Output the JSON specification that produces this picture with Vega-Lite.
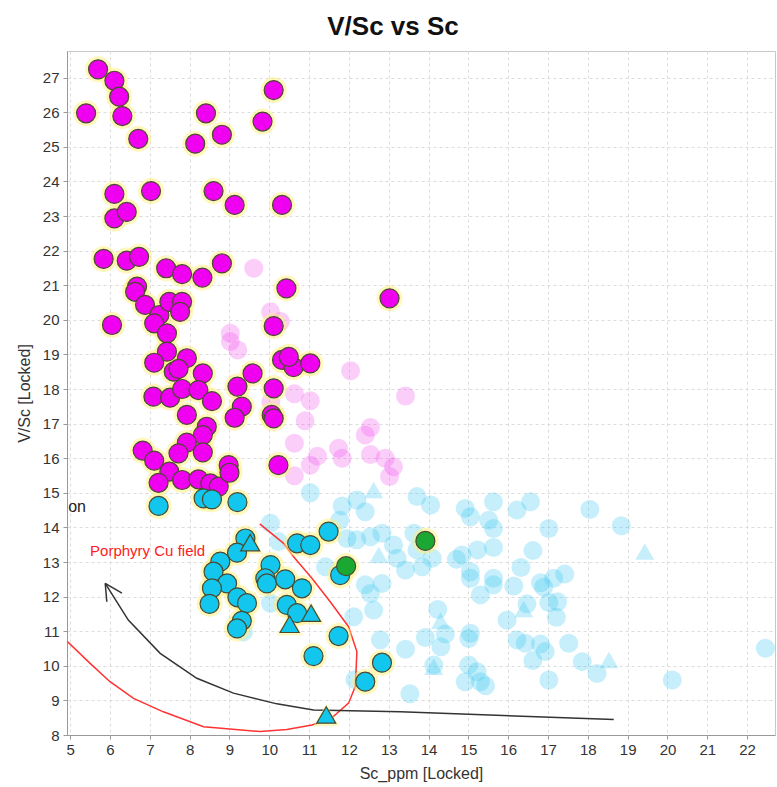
{
  "$schema": "https://vega.github.io/schema/vega-lite/v6.json",
  "width": 708,
  "height": 684,
  "autosize": "none",
  "padding": {"left": 67, "top": 51, "right": 2, "bottom": 52},
  "background": "white",
  "title": {"text": "V/Sc vs Sc", "font": "Liberation Sans", "fontSize": 26, "fontWeight": "bold", "color": "#111", "offset": 11, "dx": -28},
  "config": {
    "view": {"stroke": "#c8c8c8"}
  },
  "datasets": {
    "pts": [
      {"sc": 5.70, "vsc": 27.24, "grp": "mag", "shp": "circle"},
      {"sc": 6.11, "vsc": 26.91, "grp": "mag", "shp": "circle"},
      {"sc": 6.23, "vsc": 26.45, "grp": "mag", "shp": "circle"},
      {"sc": 5.40, "vsc": 25.97, "grp": "mag", "shp": "circle"},
      {"sc": 6.31, "vsc": 25.89, "grp": "mag", "shp": "circle"},
      {"sc": 6.71, "vsc": 25.23, "grp": "mag", "shp": "circle"},
      {"sc": 8.14, "vsc": 25.09, "grp": "mag", "shp": "circle"},
      {"sc": 8.41, "vsc": 25.97, "grp": "mag", "shp": "circle"},
      {"sc": 8.81, "vsc": 25.35, "grp": "mag", "shp": "circle"},
      {"sc": 10.11, "vsc": 26.64, "grp": "mag", "shp": "circle"},
      {"sc": 9.83, "vsc": 25.73, "grp": "mag", "shp": "circle"},
      {"sc": 6.11, "vsc": 23.64, "grp": "mag", "shp": "circle"},
      {"sc": 7.03, "vsc": 23.72, "grp": "mag", "shp": "circle"},
      {"sc": 8.60, "vsc": 23.72, "grp": "mag", "shp": "circle"},
      {"sc": 9.13, "vsc": 23.32, "grp": "mag", "shp": "circle"},
      {"sc": 10.32, "vsc": 23.32, "grp": "mag", "shp": "circle"},
      {"sc": 6.11, "vsc": 22.93, "grp": "mag", "shp": "circle"},
      {"sc": 6.42, "vsc": 23.12, "grp": "mag", "shp": "circle"},
      {"sc": 5.84, "vsc": 21.76, "grp": "mag", "shp": "circle"},
      {"sc": 6.42, "vsc": 21.71, "grp": "mag", "shp": "circle"},
      {"sc": 6.73, "vsc": 21.82, "grp": "mag", "shp": "circle"},
      {"sc": 7.41, "vsc": 21.49, "grp": "mag", "shp": "circle"},
      {"sc": 7.81, "vsc": 21.32, "grp": "mag", "shp": "circle"},
      {"sc": 8.32, "vsc": 21.22, "grp": "mag", "shp": "circle"},
      {"sc": 8.81, "vsc": 21.63, "grp": "mag", "shp": "circle"},
      {"sc": 10.43, "vsc": 20.91, "grp": "mag", "shp": "circle"},
      {"sc": 13.02, "vsc": 20.62, "grp": "mag", "shp": "circle"},
      {"sc": 6.68, "vsc": 20.96, "grp": "mag", "shp": "circle"},
      {"sc": 6.63, "vsc": 20.81, "grp": "mag", "shp": "circle"},
      {"sc": 6.88, "vsc": 20.43, "grp": "mag", "shp": "circle"},
      {"sc": 7.24, "vsc": 20.14, "grp": "mag", "shp": "circle"},
      {"sc": 7.49, "vsc": 20.52, "grp": "mag", "shp": "circle"},
      {"sc": 7.81, "vsc": 20.52, "grp": "mag", "shp": "circle"},
      {"sc": 7.76, "vsc": 20.23, "grp": "mag", "shp": "circle"},
      {"sc": 6.05, "vsc": 19.85, "grp": "mag", "shp": "circle"},
      {"sc": 7.11, "vsc": 19.90, "grp": "mag", "shp": "circle"},
      {"sc": 7.43, "vsc": 19.61, "grp": "mag", "shp": "circle"},
      {"sc": 10.11, "vsc": 19.82, "grp": "mag", "shp": "circle"},
      {"sc": 7.43, "vsc": 19.08, "grp": "mag", "shp": "circle"},
      {"sc": 7.11, "vsc": 18.76, "grp": "mag", "shp": "circle"},
      {"sc": 7.93, "vsc": 18.89, "grp": "mag", "shp": "circle"},
      {"sc": 7.60, "vsc": 18.50, "grp": "mag", "shp": "circle"},
      {"sc": 7.72, "vsc": 18.58, "grp": "mag", "shp": "circle"},
      {"sc": 8.33, "vsc": 18.45, "grp": "mag", "shp": "circle"},
      {"sc": 9.58, "vsc": 18.45, "grp": "mag", "shp": "circle"},
      {"sc": 10.32, "vsc": 18.84, "grp": "mag", "shp": "circle"},
      {"sc": 10.61, "vsc": 18.63, "grp": "mag", "shp": "circle"},
      {"sc": 11.03, "vsc": 18.74, "grp": "mag", "shp": "circle"},
      {"sc": 10.49, "vsc": 18.93, "grp": "mag", "shp": "circle"},
      {"sc": 10.11, "vsc": 18.02, "grp": "mag", "shp": "circle"},
      {"sc": 7.09, "vsc": 17.78, "grp": "mag", "shp": "circle"},
      {"sc": 7.51, "vsc": 17.75, "grp": "mag", "shp": "circle"},
      {"sc": 7.81, "vsc": 18.00, "grp": "mag", "shp": "circle"},
      {"sc": 8.22, "vsc": 17.97, "grp": "mag", "shp": "circle"},
      {"sc": 8.56, "vsc": 17.65, "grp": "mag", "shp": "circle"},
      {"sc": 9.20, "vsc": 18.07, "grp": "mag", "shp": "circle"},
      {"sc": 9.31, "vsc": 17.49, "grp": "mag", "shp": "circle"},
      {"sc": 9.13, "vsc": 17.17, "grp": "mag", "shp": "circle"},
      {"sc": 10.06, "vsc": 17.25, "grp": "mag", "shp": "circle"},
      {"sc": 10.11, "vsc": 17.15, "grp": "mag", "shp": "circle"},
      {"sc": 7.93, "vsc": 17.25, "grp": "mag", "shp": "circle"},
      {"sc": 8.43, "vsc": 16.91, "grp": "mag", "shp": "circle"},
      {"sc": 8.33, "vsc": 16.67, "grp": "mag", "shp": "circle"},
      {"sc": 7.93, "vsc": 16.45, "grp": "mag", "shp": "circle"},
      {"sc": 7.72, "vsc": 16.14, "grp": "mag", "shp": "circle"},
      {"sc": 8.33, "vsc": 16.17, "grp": "mag", "shp": "circle"},
      {"sc": 6.82, "vsc": 16.22, "grp": "mag", "shp": "circle"},
      {"sc": 7.11, "vsc": 15.93, "grp": "mag", "shp": "circle"},
      {"sc": 7.49, "vsc": 15.61, "grp": "mag", "shp": "circle"},
      {"sc": 7.22, "vsc": 15.29, "grp": "mag", "shp": "circle"},
      {"sc": 7.81, "vsc": 15.37, "grp": "mag", "shp": "circle"},
      {"sc": 8.22, "vsc": 15.39, "grp": "mag", "shp": "circle"},
      {"sc": 8.52, "vsc": 15.27, "grp": "mag", "shp": "circle"},
      {"sc": 8.73, "vsc": 15.18, "grp": "mag", "shp": "circle"},
      {"sc": 8.98, "vsc": 15.80, "grp": "mag", "shp": "circle"},
      {"sc": 9.00, "vsc": 15.58, "grp": "mag", "shp": "circle"},
      {"sc": 10.23, "vsc": 15.80, "grp": "mag", "shp": "circle"},
      {"sc": 7.22, "vsc": 14.62, "grp": "cyan", "shp": "circle"},
      {"sc": 8.35, "vsc": 14.84, "grp": "cyan", "shp": "circle"},
      {"sc": 8.56, "vsc": 14.81, "grp": "cyan", "shp": "circle"},
      {"sc": 9.20, "vsc": 14.73, "grp": "cyan", "shp": "circle"},
      {"sc": 9.40, "vsc": 13.68, "grp": "cyan", "shp": "circle"},
      {"sc": 9.19, "vsc": 13.27, "grp": "cyan", "shp": "circle"},
      {"sc": 8.77, "vsc": 13.01, "grp": "cyan", "shp": "circle"},
      {"sc": 8.60, "vsc": 12.72, "grp": "cyan", "shp": "circle"},
      {"sc": 8.94, "vsc": 12.38, "grp": "cyan", "shp": "circle"},
      {"sc": 8.56, "vsc": 12.24, "grp": "cyan", "shp": "circle"},
      {"sc": 8.50, "vsc": 11.79, "grp": "cyan", "shp": "circle"},
      {"sc": 9.20, "vsc": 11.98, "grp": "cyan", "shp": "circle"},
      {"sc": 9.44, "vsc": 11.81, "grp": "cyan", "shp": "circle"},
      {"sc": 9.31, "vsc": 11.30, "grp": "cyan", "shp": "circle"},
      {"sc": 9.19, "vsc": 11.08, "grp": "cyan", "shp": "circle"},
      {"sc": 10.03, "vsc": 12.91, "grp": "cyan", "shp": "circle"},
      {"sc": 9.90, "vsc": 12.53, "grp": "cyan", "shp": "circle"},
      {"sc": 9.94, "vsc": 12.38, "grp": "cyan", "shp": "circle"},
      {"sc": 10.40, "vsc": 12.50, "grp": "cyan", "shp": "circle"},
      {"sc": 10.82, "vsc": 12.24, "grp": "cyan", "shp": "circle"},
      {"sc": 10.44, "vsc": 11.76, "grp": "cyan", "shp": "circle"},
      {"sc": 10.70, "vsc": 11.52, "grp": "cyan", "shp": "circle"},
      {"sc": 11.74, "vsc": 10.86, "grp": "cyan", "shp": "circle"},
      {"sc": 11.11, "vsc": 10.28, "grp": "cyan", "shp": "circle"},
      {"sc": 12.41, "vsc": 9.54, "grp": "cyan", "shp": "circle"},
      {"sc": 12.83, "vsc": 10.09, "grp": "cyan", "shp": "circle"},
      {"sc": 10.70, "vsc": 13.54, "grp": "cyan", "shp": "circle"},
      {"sc": 11.03, "vsc": 13.49, "grp": "cyan", "shp": "circle"},
      {"sc": 11.49, "vsc": 13.88, "grp": "cyan", "shp": "circle"},
      {"sc": 11.78, "vsc": 12.62, "grp": "cyan", "shp": "circle"},
      {"sc": 9.52, "vsc": 13.56, "grp": "cyan", "shp": "triangle"},
      {"sc": 10.51, "vsc": 11.20, "grp": "cyan", "shp": "triangle"},
      {"sc": 11.05, "vsc": 11.52, "grp": "cyan", "shp": "triangle"},
      {"sc": 11.43, "vsc": 8.58, "grp": "cyan", "shp": "triangle"},
      {"sc": 11.93, "vsc": 12.88, "grp": "green", "shp": "circle"},
      {"sc": 13.92, "vsc": 13.61, "grp": "green", "shp": "circle"},
      {"sc": 11.03, "vsc": 15.00, "grp": "fcyan", "shp": "circle"},
      {"sc": 13.71, "vsc": 14.89, "grp": "fcyan", "shp": "circle"},
      {"sc": 14.05, "vsc": 14.65, "grp": "fcyan", "shp": "circle"},
      {"sc": 11.83, "vsc": 14.62, "grp": "fcyan", "shp": "circle"},
      {"sc": 12.20, "vsc": 14.79, "grp": "fcyan", "shp": "circle"},
      {"sc": 12.41, "vsc": 14.45, "grp": "fcyan", "shp": "circle"},
      {"sc": 14.92, "vsc": 14.55, "grp": "fcyan", "shp": "circle"},
      {"sc": 15.05, "vsc": 14.31, "grp": "fcyan", "shp": "circle"},
      {"sc": 15.63, "vsc": 14.74, "grp": "fcyan", "shp": "circle"},
      {"sc": 16.22, "vsc": 14.50, "grp": "fcyan", "shp": "circle"},
      {"sc": 16.56, "vsc": 14.74, "grp": "fcyan", "shp": "circle"},
      {"sc": 15.51, "vsc": 14.21, "grp": "fcyan", "shp": "circle"},
      {"sc": 15.63, "vsc": 13.97, "grp": "fcyan", "shp": "circle"},
      {"sc": 17.02, "vsc": 13.97, "grp": "fcyan", "shp": "circle"},
      {"sc": 18.05, "vsc": 14.52, "grp": "fcyan", "shp": "circle"},
      {"sc": 18.84, "vsc": 14.05, "grp": "fcyan", "shp": "circle"},
      {"sc": 10.03, "vsc": 14.12, "grp": "fcyan", "shp": "circle"},
      {"sc": 10.23, "vsc": 13.59, "grp": "fcyan", "shp": "circle"},
      {"sc": 11.77, "vsc": 14.21, "grp": "fcyan", "shp": "circle"},
      {"sc": 11.95, "vsc": 13.68, "grp": "fcyan", "shp": "circle"},
      {"sc": 12.20, "vsc": 13.64, "grp": "fcyan", "shp": "circle"},
      {"sc": 12.54, "vsc": 13.73, "grp": "fcyan", "shp": "circle"},
      {"sc": 12.83, "vsc": 13.83, "grp": "fcyan", "shp": "circle"},
      {"sc": 13.12, "vsc": 13.49, "grp": "fcyan", "shp": "circle"},
      {"sc": 13.21, "vsc": 13.11, "grp": "fcyan", "shp": "circle"},
      {"sc": 13.42, "vsc": 12.77, "grp": "fcyan", "shp": "circle"},
      {"sc": 13.63, "vsc": 13.83, "grp": "fcyan", "shp": "circle"},
      {"sc": 13.71, "vsc": 13.35, "grp": "fcyan", "shp": "circle"},
      {"sc": 13.84, "vsc": 12.86, "grp": "fcyan", "shp": "circle"},
      {"sc": 14.09, "vsc": 13.11, "grp": "fcyan", "shp": "circle"},
      {"sc": 11.41, "vsc": 12.86, "grp": "fcyan", "shp": "circle"},
      {"sc": 14.70, "vsc": 13.08, "grp": "fcyan", "shp": "circle"},
      {"sc": 14.84, "vsc": 13.20, "grp": "fcyan", "shp": "circle"},
      {"sc": 15.23, "vsc": 13.35, "grp": "fcyan", "shp": "circle"},
      {"sc": 15.63, "vsc": 13.42, "grp": "fcyan", "shp": "circle"},
      {"sc": 16.62, "vsc": 13.33, "grp": "fcyan", "shp": "circle"},
      {"sc": 15.05, "vsc": 12.72, "grp": "fcyan", "shp": "circle"},
      {"sc": 15.05, "vsc": 12.53, "grp": "fcyan", "shp": "circle"},
      {"sc": 15.63, "vsc": 12.53, "grp": "fcyan", "shp": "circle"},
      {"sc": 15.63, "vsc": 12.34, "grp": "fcyan", "shp": "circle"},
      {"sc": 15.30, "vsc": 12.05, "grp": "fcyan", "shp": "circle"},
      {"sc": 16.32, "vsc": 12.84, "grp": "fcyan", "shp": "circle"},
      {"sc": 16.14, "vsc": 12.31, "grp": "fcyan", "shp": "circle"},
      {"sc": 16.81, "vsc": 12.40, "grp": "fcyan", "shp": "circle"},
      {"sc": 16.89, "vsc": 12.27, "grp": "fcyan", "shp": "circle"},
      {"sc": 17.14, "vsc": 12.53, "grp": "fcyan", "shp": "circle"},
      {"sc": 17.42, "vsc": 12.65, "grp": "fcyan", "shp": "circle"},
      {"sc": 16.47, "vsc": 11.79, "grp": "fcyan", "shp": "circle"},
      {"sc": 17.02, "vsc": 11.83, "grp": "fcyan", "shp": "circle"},
      {"sc": 17.24, "vsc": 11.85, "grp": "fcyan", "shp": "circle"},
      {"sc": 17.21, "vsc": 11.40, "grp": "fcyan", "shp": "circle"},
      {"sc": 15.97, "vsc": 11.32, "grp": "fcyan", "shp": "circle"},
      {"sc": 10.03, "vsc": 11.81, "grp": "fcyan", "shp": "circle"},
      {"sc": 12.41, "vsc": 12.34, "grp": "fcyan", "shp": "circle"},
      {"sc": 12.83, "vsc": 12.38, "grp": "fcyan", "shp": "circle"},
      {"sc": 12.54, "vsc": 12.09, "grp": "fcyan", "shp": "circle"},
      {"sc": 12.62, "vsc": 11.61, "grp": "fcyan", "shp": "circle"},
      {"sc": 12.12, "vsc": 11.42, "grp": "fcyan", "shp": "circle"},
      {"sc": 14.23, "vsc": 11.63, "grp": "fcyan", "shp": "circle"},
      {"sc": 14.42, "vsc": 10.92, "grp": "fcyan", "shp": "circle"},
      {"sc": 13.92, "vsc": 10.82, "grp": "fcyan", "shp": "circle"},
      {"sc": 14.31, "vsc": 10.55, "grp": "fcyan", "shp": "circle"},
      {"sc": 15.05, "vsc": 10.94, "grp": "fcyan", "shp": "circle"},
      {"sc": 15.01, "vsc": 10.79, "grp": "fcyan", "shp": "circle"},
      {"sc": 13.42, "vsc": 10.48, "grp": "fcyan", "shp": "circle"},
      {"sc": 12.79, "vsc": 10.75, "grp": "fcyan", "shp": "circle"},
      {"sc": 16.22, "vsc": 10.75, "grp": "fcyan", "shp": "circle"},
      {"sc": 16.43, "vsc": 10.65, "grp": "fcyan", "shp": "circle"},
      {"sc": 16.81, "vsc": 10.63, "grp": "fcyan", "shp": "circle"},
      {"sc": 16.93, "vsc": 10.41, "grp": "fcyan", "shp": "circle"},
      {"sc": 16.62, "vsc": 10.15, "grp": "fcyan", "shp": "circle"},
      {"sc": 17.52, "vsc": 10.65, "grp": "fcyan", "shp": "circle"},
      {"sc": 17.86, "vsc": 10.12, "grp": "fcyan", "shp": "circle"},
      {"sc": 18.23, "vsc": 9.78, "grp": "fcyan", "shp": "circle"},
      {"sc": 22.46, "vsc": 10.51, "grp": "fcyan", "shp": "circle"},
      {"sc": 20.12, "vsc": 9.59, "grp": "fcyan", "shp": "circle"},
      {"sc": 17.02, "vsc": 9.59, "grp": "fcyan", "shp": "circle"},
      {"sc": 14.13, "vsc": 10.02, "grp": "fcyan", "shp": "circle"},
      {"sc": 15.01, "vsc": 10.02, "grp": "fcyan", "shp": "circle"},
      {"sc": 15.22, "vsc": 9.83, "grp": "fcyan", "shp": "circle"},
      {"sc": 14.92, "vsc": 9.54, "grp": "fcyan", "shp": "circle"},
      {"sc": 15.30, "vsc": 9.54, "grp": "fcyan", "shp": "circle"},
      {"sc": 15.43, "vsc": 9.42, "grp": "fcyan", "shp": "circle"},
      {"sc": 13.53, "vsc": 9.19, "grp": "fcyan", "shp": "circle"},
      {"sc": 12.15, "vsc": 9.60, "grp": "fcyan", "shp": "circle"},
      {"sc": 9.35, "vsc": 10.98, "grp": "fcyan", "shp": "circle"},
      {"sc": 12.62, "vsc": 15.08, "grp": "fcyan", "shp": "triangle"},
      {"sc": 12.75, "vsc": 13.20, "grp": "fcyan", "shp": "triangle"},
      {"sc": 16.39, "vsc": 11.64, "grp": "fcyan", "shp": "triangle"},
      {"sc": 14.30, "vsc": 11.30, "grp": "fcyan", "shp": "triangle"},
      {"sc": 14.13, "vsc": 9.97, "grp": "fcyan", "shp": "triangle"},
      {"sc": 18.53, "vsc": 10.17, "grp": "fcyan", "shp": "triangle"},
      {"sc": 19.43, "vsc": 13.30, "grp": "fcyan", "shp": "triangle"},
      {"sc": 9.61, "vsc": 21.49, "grp": "fpink", "shp": "circle"},
      {"sc": 10.03, "vsc": 20.23, "grp": "fpink", "shp": "circle"},
      {"sc": 10.28, "vsc": 19.95, "grp": "fpink", "shp": "circle"},
      {"sc": 9.02, "vsc": 19.61, "grp": "fpink", "shp": "circle"},
      {"sc": 9.02, "vsc": 19.37, "grp": "fpink", "shp": "circle"},
      {"sc": 9.21, "vsc": 19.13, "grp": "fpink", "shp": "circle"},
      {"sc": 12.04, "vsc": 18.53, "grp": "fpink", "shp": "circle"},
      {"sc": 13.42, "vsc": 17.80, "grp": "fpink", "shp": "circle"},
      {"sc": 10.63, "vsc": 17.86, "grp": "fpink", "shp": "circle"},
      {"sc": 11.03, "vsc": 17.66, "grp": "fpink", "shp": "circle"},
      {"sc": 10.04, "vsc": 17.63, "grp": "fpink", "shp": "circle"},
      {"sc": 10.90, "vsc": 17.08, "grp": "fpink", "shp": "circle"},
      {"sc": 12.54, "vsc": 16.89, "grp": "fpink", "shp": "circle"},
      {"sc": 12.41, "vsc": 16.67, "grp": "fpink", "shp": "circle"},
      {"sc": 10.63, "vsc": 16.43, "grp": "fpink", "shp": "circle"},
      {"sc": 11.74, "vsc": 16.29, "grp": "fpink", "shp": "circle"},
      {"sc": 11.83, "vsc": 16.00, "grp": "fpink", "shp": "circle"},
      {"sc": 11.21, "vsc": 16.06, "grp": "fpink", "shp": "circle"},
      {"sc": 11.03, "vsc": 15.80, "grp": "fpink", "shp": "circle"},
      {"sc": 12.54, "vsc": 16.11, "grp": "fpink", "shp": "circle"},
      {"sc": 12.91, "vsc": 16.00, "grp": "fpink", "shp": "circle"},
      {"sc": 13.12, "vsc": 15.75, "grp": "fpink", "shp": "circle"},
      {"sc": 13.02, "vsc": 15.47, "grp": "fpink", "shp": "circle"},
      {"sc": 10.63, "vsc": 15.49, "grp": "fpink", "shp": "circle"}
    ],
    "lines": [
      {"g": "red", "i": 1, "sc": 4.93, "vsc": 10.70},
      {"g": "red", "i": 2, "sc": 5.50, "vsc": 10.07},
      {"g": "red", "i": 3, "sc": 6.00, "vsc": 9.54},
      {"g": "red", "i": 4, "sc": 6.59, "vsc": 9.06},
      {"g": "red", "i": 5, "sc": 7.34, "vsc": 8.67},
      {"g": "red", "i": 6, "sc": 8.35, "vsc": 8.24},
      {"g": "red", "i": 7, "sc": 9.77, "vsc": 8.10},
      {"g": "red", "i": 8, "sc": 10.44, "vsc": 8.16},
      {"g": "red", "i": 9, "sc": 11.07, "vsc": 8.29},
      {"g": "red", "i": 10, "sc": 11.53, "vsc": 8.45},
      {"g": "red", "i": 11, "sc": 11.99, "vsc": 8.92},
      {"g": "red", "i": 12, "sc": 12.16, "vsc": 9.40},
      {"g": "red", "i": 13, "sc": 12.20, "vsc": 10.41},
      {"g": "red", "i": 14, "sc": 11.99, "vsc": 11.13},
      {"g": "red", "i": 15, "sc": 11.53, "vsc": 11.85},
      {"g": "red", "i": 16, "sc": 11.07, "vsc": 12.53},
      {"g": "red", "i": 17, "sc": 10.61, "vsc": 13.15},
      {"g": "red", "i": 18, "sc": 10.36, "vsc": 13.54},
      {"g": "red", "i": 19, "sc": 9.76, "vsc": 14.10},
      {"g": "black", "i": 1, "sc": 5.88, "vsc": 12.38},
      {"g": "black", "i": 2, "sc": 6.46, "vsc": 11.32},
      {"g": "black", "i": 3, "sc": 7.26, "vsc": 10.36},
      {"g": "black", "i": 4, "sc": 8.18, "vsc": 9.64},
      {"g": "black", "i": 5, "sc": 9.10, "vsc": 9.21},
      {"g": "black", "i": 6, "sc": 10.19, "vsc": 8.90},
      {"g": "black", "i": 7, "sc": 11.11, "vsc": 8.72},
      {"g": "black", "i": 8, "sc": 13.29, "vsc": 8.67},
      {"g": "black", "i": 9, "sc": 18.65, "vsc": 8.45},
      {"g": "arrow1", "i": 1, "sc": 5.92, "vsc": 11.85},
      {"g": "arrow1", "i": 2, "sc": 5.88, "vsc": 12.38},
      {"g": "arrow2", "i": 1, "sc": 6.30, "vsc": 12.10},
      {"g": "arrow2", "i": 2, "sc": 5.88, "vsc": 12.38}
    ],
    "labels": [
      {"t": "on", "sc": 4.95, "vsc": 14.6, "k": "black"},
      {"t": "Porphyry Cu field", "sc": 5.5, "vsc": 13.32, "k": "red"}
    ]
  },
  "encoding": {
    "x": {"field": "sc", "type": "quantitative", "scale": {"domain": [4.92, 22.7], "nice": false, "zero": false},
      "axis": {"title": "Sc_ppm [Locked]", "values": [5,6,7,8,9,10,11,12,13,14,15,16,17,18,19,20,21,22], "labelOverlap": false,
        "labelFont": "Liberation Sans", "labelFontSize": 15, "labelColor": "#333", "labelPadding": 3,
        "titleFont": "Liberation Sans", "titleFontSize": 16, "titleFontWeight": "normal", "titleColor": "#333", "titlePadding": 8,
        "grid": true, "gridColor": "#dcdcdc", "gridDash": [3, 3], "domainColor": "#999", "tickColor": "#999", "tickSize": 4}},
    "y": {"field": "vsc", "type": "quantitative", "scale": {"domain": [8, 27.77], "nice": false, "zero": false},
      "axis": {"title": "V/Sc [Locked]", "values": [8,9,10,11,12,13,14,15,16,17,18,19,20,21,22,23,24,25,26,27], "labelOverlap": false,
        "labelFont": "Liberation Sans", "labelFontSize": 15, "labelColor": "#333", "labelPadding": 4,
        "titleFont": "Liberation Sans", "titleFontSize": 16, "titleFontWeight": "normal", "titleColor": "#333", "titlePadding": 10,
        "grid": true, "gridColor": "#dcdcdc", "gridDash": [3, 3], "domainColor": "#999", "tickColor": "#999", "tickSize": 4}}
  },
  "layer": [
    {
      "data": {"name": "pts"},
      "transform": [{"filter": "datum.grp === 'fcyan' || datum.grp === 'fpink'"}],
      "mark": {"type": "point", "filled": true, "opacity": 0.28, "size": 361, "strokeWidth": 0},
      "encoding": {
        "color": {"field": "grp", "type": "nominal", "scale": {"domain": ["fcyan", "fpink", "mag", "cyan", "green"], "range": ["#33c6f0", "#f050ec", "#f000f0", "#12c6ee", "#1aa832"]}, "legend": null},
        "shape": {"field": "shp", "type": "nominal", "scale": {"domain": ["circle", "triangle"], "range": ["circle", "triangle-up"]}, "legend": null}
      }
    },
    {
      "data": {"name": "lines"},
      "transform": [{"filter": "datum.g === 'red'"}],
      "mark": {"type": "line", "color": "#ff3333", "strokeWidth": 1.5, "clip": true},
      "encoding": {
        "order": {"field": "i", "type": "quantitative"}
      }
    },
    {
      "data": {"name": "lines"},
      "transform": [{"filter": "datum.g !== 'red'"}],
      "mark": {"type": "line", "color": "#333333", "strokeWidth": 1.5, "clip": true},
      "encoding": {
        "detail": {"field": "g"},
        "order": {"field": "i", "type": "quantitative"}
      }
    },
    {
      "data": {"name": "pts"},
      "transform": [{"filter": "datum.grp === 'mag' || datum.grp === 'cyan' || datum.grp === 'green'"}],
      "mark": {"type": "point", "filled": true, "color": "#fff07a", "opacity": 0.5, "size": 680, "strokeWidth": 0},
      "encoding": {
        "shape": {"field": "shp", "type": "nominal", "legend": null}
      }
    },
    {
      "data": {"name": "pts"},
      "transform": [{"filter": "datum.grp === 'mag' || datum.grp === 'cyan' || datum.grp === 'green'"}],
      "mark": {"type": "point", "filled": true, "opacity": 1, "size": 361, "stroke": "#4a4a30", "strokeWidth": 1.2},
      "encoding": {
        "color": {"field": "grp", "type": "nominal", "legend": null},
        "shape": {"field": "shp", "type": "nominal", "legend": null}
      }
    },
    {
      "data": {"name": "labels"},
      "transform": [{"filter": "datum.k === 'black'"}],
      "mark": {"type": "text", "align": "left", "baseline": "middle", "font": "Liberation Sans", "fontSize": 16, "color": "#222"},
      "encoding": {
        "text": {"field": "t"}
      }
    },
    {
      "data": {"name": "labels"},
      "transform": [{"filter": "datum.k === 'red'"}],
      "mark": {"type": "text", "align": "left", "baseline": "middle", "font": "Liberation Sans", "fontSize": 15, "color": "#ff2020"},
      "encoding": {
        "text": {"field": "t"}
      }
    }
  ]
}
